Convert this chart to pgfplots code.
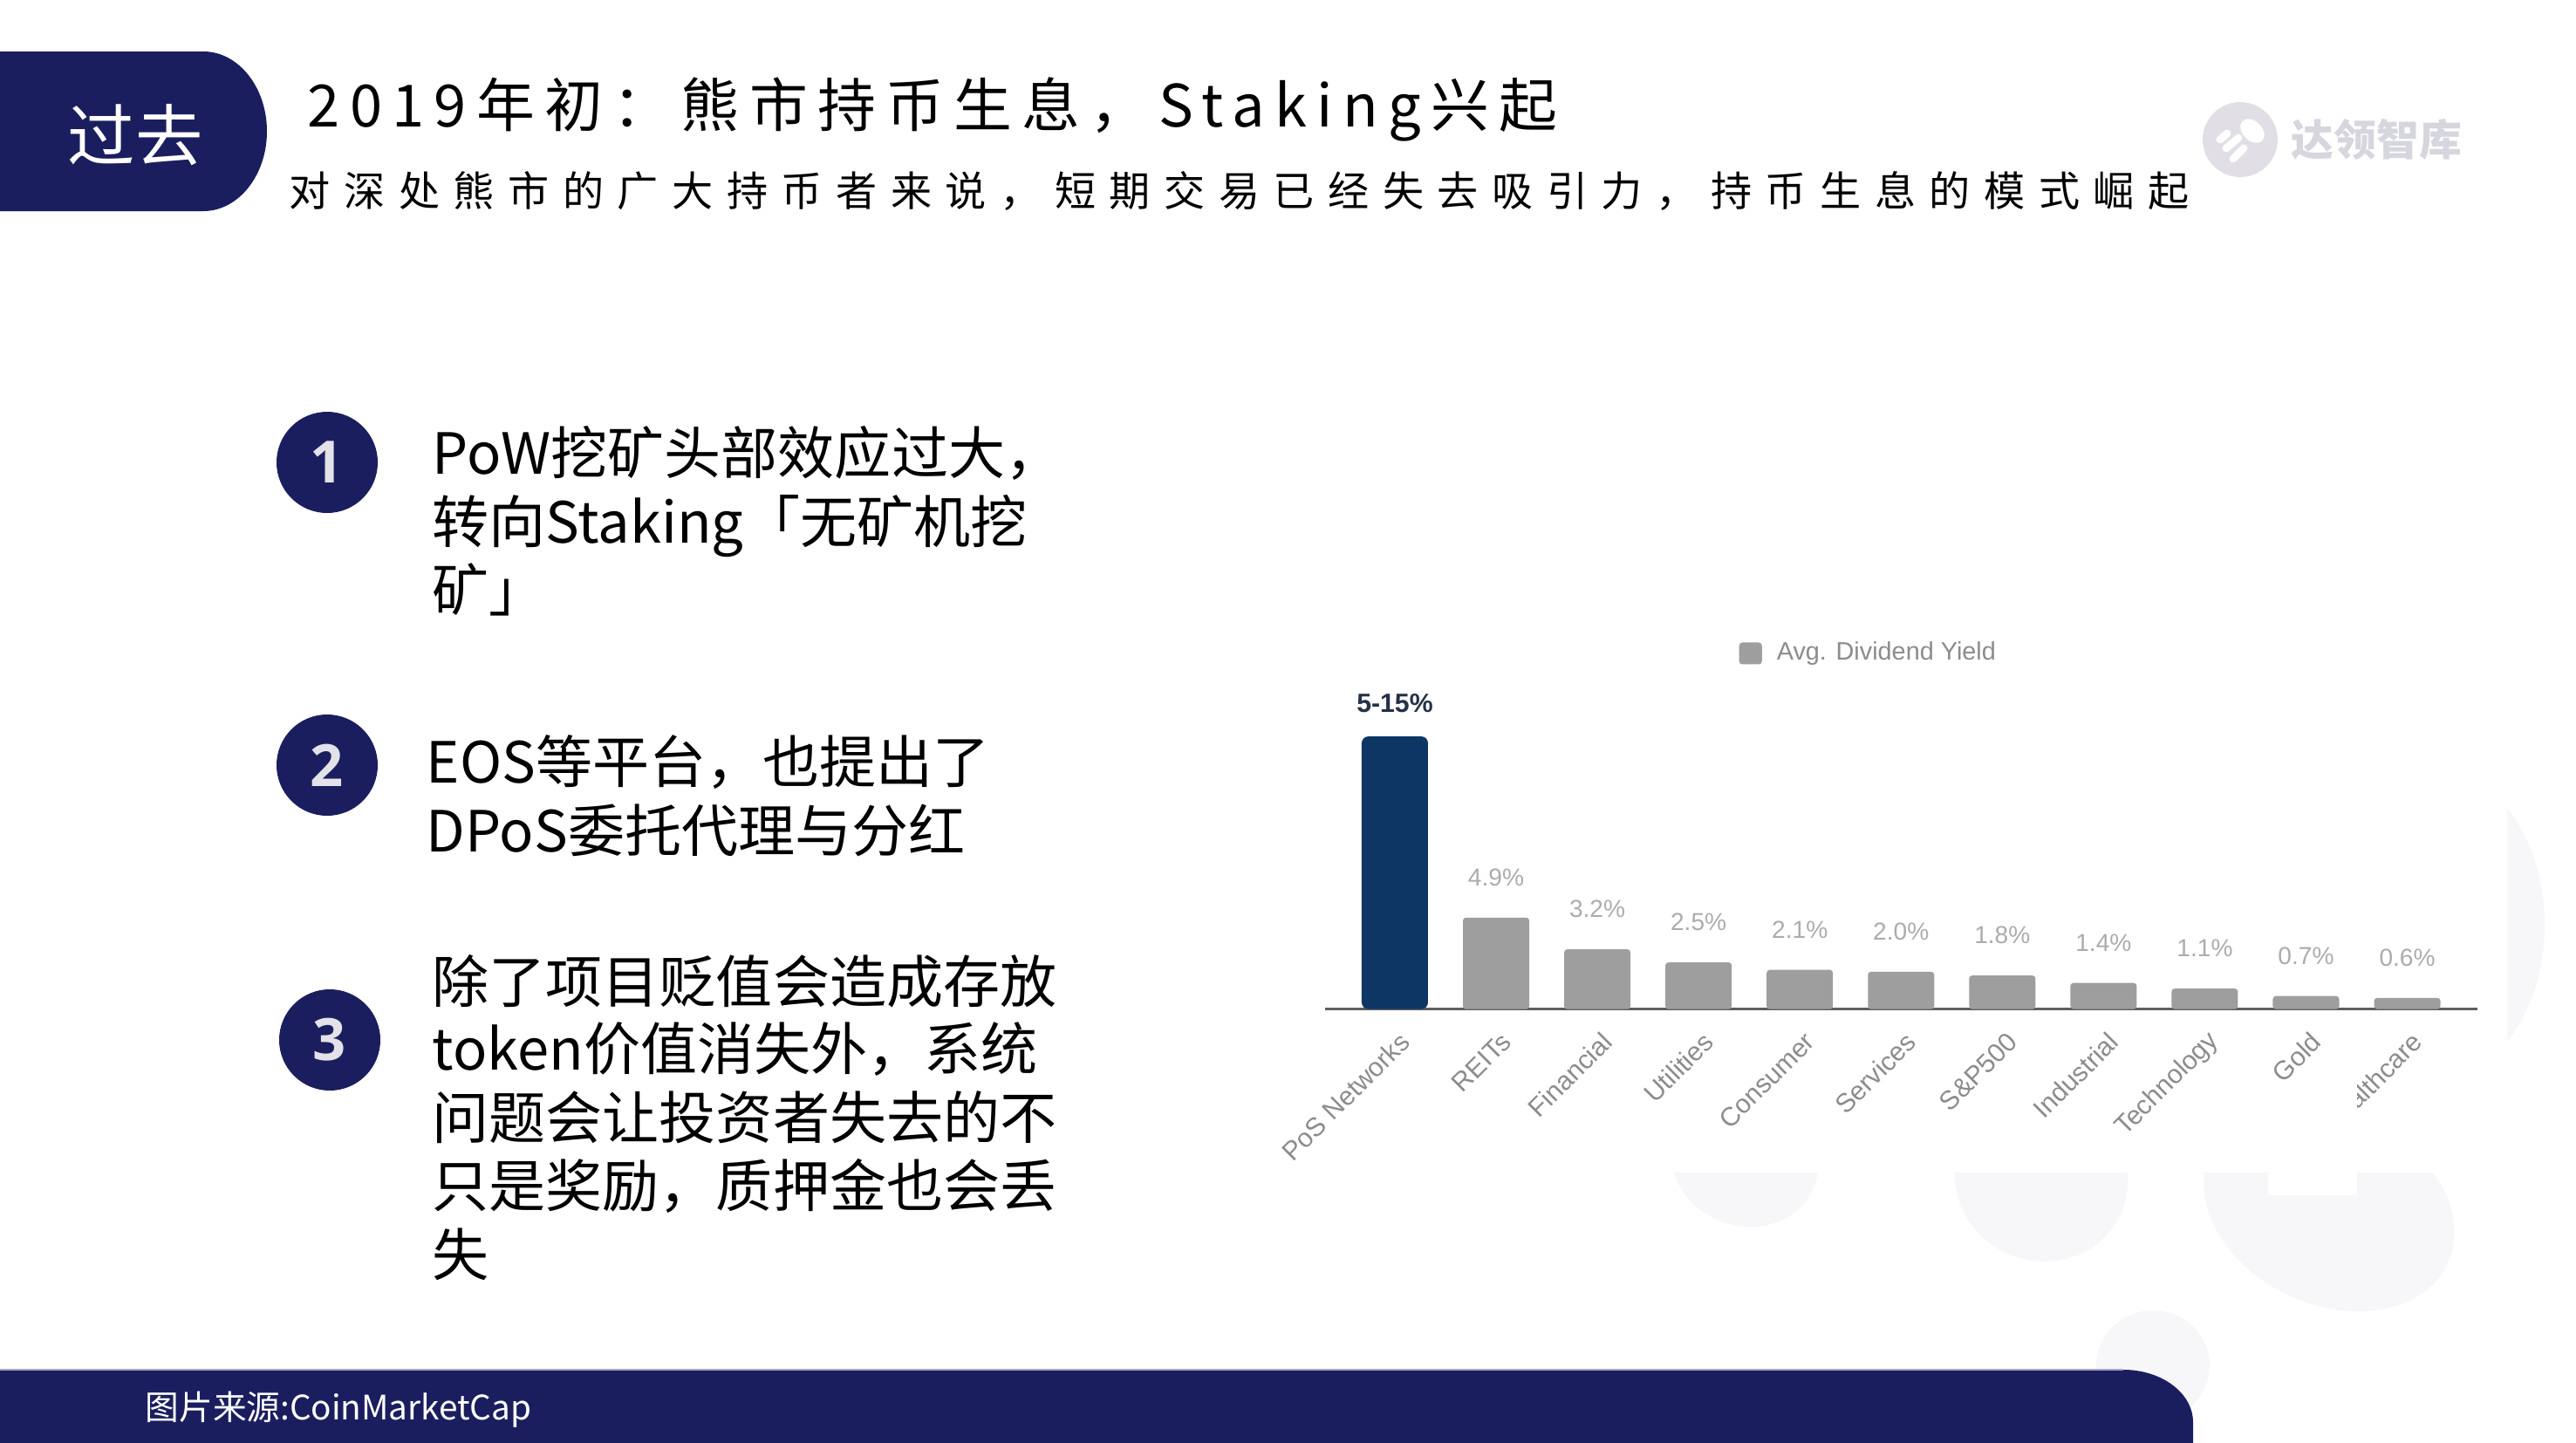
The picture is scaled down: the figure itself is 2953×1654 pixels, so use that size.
\documentclass[border=0pt]{standalone}
\usepackage{fontspec}
\setmainfont{Noto Sans CJK SC}
\newfontfamily\cjk{Noto Sans CJK SC}
\newfontfamily\titlefont[LetterSpace=17]{Noto Sans CJK SC}
\newfontfamily\subfont[LetterSpace=33]{Noto Sans CJK SC}
\newfontfamily\chartfont{Liberation Sans}
\newfontfamily\numfont{Open Sans}
\usepackage{pgfplots}
\pgfplotsset{compat=1.18}
\definecolor{navy}{RGB}{27,30,94}
\definecolor{posnavy}{RGB}{14,54,101}
\definecolor{bargray}{RGB}{158,158,158}
\definecolor{labelgray}{RGB}{172,172,172}
\definecolor{tickgray}{RGB}{140,140,140}
\definecolor{axisgray}{RGB}{95,95,95}
\definecolor{decor}{RGB}{247,247,249}
\definecolor{logogray}{RGB}{214,214,222}
\definecolor{logocircle}{RGB}{226,222,230}
\definecolor{numwhite}{RGB}{226,226,232}
\definecolor{poslabel}{RGB}{36,50,72}
\begin{document}
\begin{tikzpicture}[x=0.01cm,y=-0.01cm]
\path[use as bounding box] (0,0) rectangle (2953,1654);
\fill[white] (0,0) rectangle (2953,1654);
% faint background decorations
\fill[decor] (2000,1330) ellipse [x radius=85, y radius=75, rotate=-20];
\fill[decor] (2340,1350) ellipse [x radius=100, y radius=95, rotate=-25];
\fill[decor] (2670,1385) ellipse [x radius=150, y radius=110, rotate=-25];
\fill[decor] (2468,1565) ellipse [x radius=65, y radius=63];
\fill[decor] (2800,1060) ellipse [x radius=117, y radius=172];
\fill[white] (1440,690) rectangle (2874,1344);
% header tab
\fill[navy] (0,59) -- (233,59) arc[start angle=-90,end angle=90,x radius=73,y radius=91.5] -- (0,242) -- cycle;
\node[text=white, inner sep=0pt, font=\cjk\fontsize{22pt}{26pt}\selectfont] at (155,155) {过去};
\node[anchor=base west, inner sep=0pt] at (352,145) {\titlefont\fontsize{19pt}{22pt}\selectfont 2019年初：熊市持币生息，Staking兴起};
\node[anchor=base west, inner sep=0pt] at (331,236) {\subfont\fontsize{13.4pt}{16pt}\selectfont 对深处熊市的广大持币者来说，短期交易已经失去吸引力，持币生息的模式崛起};
% logo
\fill[logocircle] (2568,160) circle[radius=43];
\fill[white] (2582,150) ellipse [x radius=16, y radius=11, rotate=-45];
\draw[white, line width=2.5pt, line cap=round] (2552,170) -- (2566,158);
\draw[white, line width=2.5pt, line cap=round] (2560,182) -- (2572,170);
\draw[white, line width=2.5pt, line cap=round] (2545,160) -- (2553,153);
\node[anchor=west, inner sep=0pt, text=logogray, font=\cjk\bfseries\fontsize{13.9pt}{16pt}\selectfont] at (2626,160) {达领智库};
% numbered circles
\fill[navy] (375,530) circle[radius=58];
\fill[navy] (375,877) circle[radius=58];
\fill[navy] (378,1192) circle[radius=58];
\node[text=numwhite, font=\numfont\bfseries\fontsize{19pt}{22pt}\selectfont] at (375,530) {1};
\node[text=numwhite, font=\numfont\bfseries\fontsize{19pt}{22pt}\selectfont] at (375,877) {2};
\node[text=numwhite, font=\numfont\bfseries\fontsize{19pt}{22pt}\selectfont] at (378,1192) {3};
% items
\begin{scope}[every node/.style={anchor=base west, inner sep=0pt, font=\cjk\fontsize{18.5pt}{22pt}\selectfont}]
\node at (495,543) {PoW挖矿头部效应过大，};
\node at (495,622) {转向Staking「无矿机挖};
\node at (495,700) {矿」};
\node at (488,897) {EOS等平台，也提出了};
\node at (488,976) {DPoS委托代理与分红};
\node at (495,1149) {除了项目贬值会造成存放};
\node at (495,1226) {token价值消失外，系统};
\node at (495,1305) {问题会让投资者失去的不};
\node at (495,1383) {只是奖励，质押金也会丢};
\node at (495,1462) {失};
\end{scope}
% chart
\begin{scope}[x=1cm,y=1cm]
\begin{axis}[
  at={(15.18cm,-11.56cm)}, anchor=south west,
  scale only axis, width=13.2cm, height=3.424cm,
  xmin=-0.69, xmax=10.69, ymin=0, ymax=16,
  axis x line=bottom, axis y line=none,
  x axis line style={-, draw=axisgray, line width=0.9pt},
  xtick={0,1,2,3,4,5,6,7,8,9,10},
  xticklabels={PoS Networks,REITs,Financial,Utilities,Consumer,Services,S\&P500,Industrial,Technology,Gold,Healthcare},
  major tick length=0pt,
  xticklabel style={font=\chartfont\fontsize{8.6pt}{10pt}\selectfont, text=tickgray, xshift=0.12cm, yshift=-0.32cm, rotate=45, anchor=east, inner sep=0pt},
  ytick=\empty,
  ybar, bar width=0.76cm, bar shift=0pt,
  clip=false,
  /pgf/number format/assume math mode=true,
  legend style={at={(0.359,1.19)}, anchor=west, draw=none, fill=none, inner sep=0pt,
    font=\chartfont\fontsize{8.2pt}{10pt}\selectfont, text=tickgray,
    /tikz/every odd column/.append style={column sep=0.1cm}},
]
\addplot[fill=posnavy, draw=none, rounded corners=2.2pt, forget plot,
  nodes near coords={5-15\%},
  every node near coord/.append style={anchor=center, yshift=0.38cm, text=poslabel, font=\chartfont\bfseries\fontsize{8.6pt}{10pt}\selectfont}]
  coordinates {(0,14.6)};
\addplot[fill=bargray, draw=none, rounded corners=1pt,
  legend image code/.code={\fill[bargray] (0cm,-0.125cm) rectangle (0.26cm,0.125cm);},
  nodes near coords={\pgfmathprintnumber[fixed,fixed zerofill,precision=1]{\pgfplotspointmeta}\%},
  every node near coord/.append style={anchor=center, yshift=0.46cm, text=labelgray, font=\chartfont\fontsize{8pt}{10pt}\selectfont}]
  coordinates {(1,4.9) (2,3.2) (3,2.5) (4,2.1) (5,2.0) (6,1.8) (7,1.4) (8,1.1) (9,0.7) (10,0.6)};
\addlegendentry{Avg. Dividend Yield}
\end{axis}
\end{scope}
\fill[white] (2600,1240) rectangle (2702,1370);
% bottom bar
\fill[navy] (0,1570) -- (2434,1570) arc[start angle=-90,end angle=0,x radius=80,y radius=60] -- (2514,1654) -- (0,1654) -- cycle;
\draw[navy!40, line width=0.6pt] (0,1570) -- (2434,1570);
\node[anchor=base west, inner sep=0pt, text=white, font=\cjk\fontsize{11pt}{13pt}\selectfont] at (166,1627) {图片来源:CoinMarketCap};
\end{tikzpicture}
\end{document}
